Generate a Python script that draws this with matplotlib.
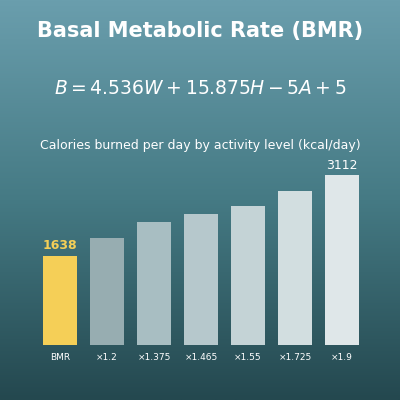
import numpy as np
import matplotlib.pyplot as plt
from matplotlib.colors import LinearSegmentedColormap

labels = ['BMR', '×1.2', '×1.375', '×1.465', '×1.55', '×1.725', '×1.9']
values = [1638, 1966, 2252, 2400, 2539, 2826, 3112]
colors = ['#f5cf57', '#97adb1', '#a8bec2', '#b6c8cc', '#c4d3d6', '#d2dee0', '#dfe7e9']

fig = plt.figure(figsize=(4, 4), dpi=100)

# background gradient
bg = fig.add_axes([0, 0, 1, 1])
cmap = LinearSegmentedColormap.from_list('bg', ['#6a9ead', '#457a84', '#24484f'])
bg.imshow(np.linspace(0, 1, 256).reshape(-1, 1), aspect='auto', cmap=cmap, extent=[0, 1, 0, 1])
bg.axis('off')

fig.text(0.5, 0.923, 'Basal Metabolic Rate (BMR)', ha='center', va='center',
         fontsize=15, fontweight='bold', color='white')
fig.text(0.5, 0.78, r'$B = 4.536W + 15.875H - 5A + 5$', ha='center', va='center',
         fontsize=13.5, color='white')
fig.text(0.5, 0.635, 'Calories burned per day by activity level (kcal/day)', ha='center',
         va='center', fontsize=9, color='white')

ax = fig.add_axes([36.5 / 400, 55 / 400, 329 / 400, 215 / 400])
ax.patch.set_alpha(0)
x = np.arange(len(values))
ax.bar(x, values, width=0.72, color=colors)
ax.set_xlim(-0.5, len(values) - 0.5)
ax.set_ylim(0, 3112 * 215 / 170)
for i, v in enumerate(values):
    if i == 0:
        ax.text(i, v + 60, f'{v}', ha='center', va='bottom', fontsize=9,
                fontweight='bold', color='#f5cf57')
    elif i == len(values) - 1:
        ax.text(i, v + 60, f'{v}', ha='center', va='bottom', fontsize=9, color='white')
for s in ax.spines.values():
    s.set_visible(False)
ax.set_yticks([])
ax.set_xticks(x)
ax.set_xticklabels(labels, fontsize=6.5, color='white')
ax.tick_params(axis='x', length=0, pad=6)

fig.savefig('out.png', dpi=100)
